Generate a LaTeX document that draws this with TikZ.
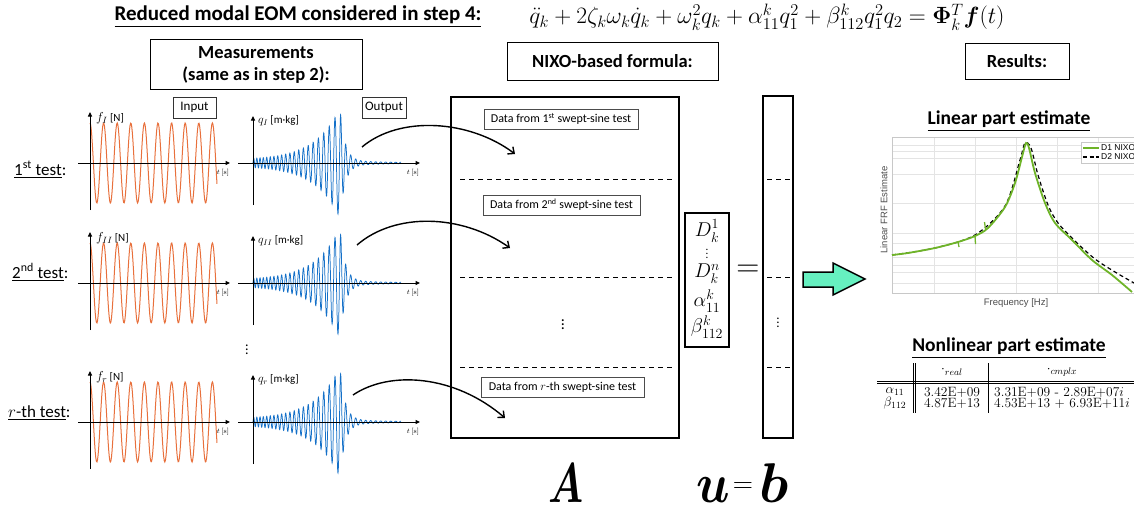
\RequirePackage{fix-cm}
\documentclass[tikz,border=0pt]{standalone}
\usepackage{amsmath,bm}
\usepackage[no-math]{fontspec}
\setmainfont{Carlito}
\newfontfamily\arialf{Liberation Sans}
\newcommand{\lmrm}{\fontfamily{lmr}\selectfont}
\usetikzlibrary{arrows.meta}
\definecolor{sigorange}{RGB}{232,112,60}
\definecolor{sigblue}{RGB}{20,112,200}
\definecolor{frgreen}{RGB}{110,180,40}
\definecolor{garrowfill}{RGB}{102,240,192}
\definecolor{gridc}{RGB}{228,228,228}
\definecolor{framec}{RGB}{200,200,200}
\newcommand{\tlab}{{\fontsize{7}{8}\selectfont$t$ {\lmrm[s]}}}
\newcommand{\testrow}[4]{%
 \draw[insig] plot[domain=0:127,samples=220] ({90+\x},{#2-40*cos(26.47*\x)});
 \draw[outsig] plot[domain=0:87,samples=520] ({253+\x},{#2-(3+52*exp((\x-87)/25))*sin(10440*ln(1+\x/87))}) -- plot[domain=87:148,samples=320] ({253+\x},{#2-(2.5*exp((87-\x)/50)+52.5*exp((87-\x)/5))*sin(7236+72*(\x-87))});
 \draw[axisline] (90,#2+47) -- (90,#2-51);
 \draw[axisline] (78,#2) -- (230,#2);
 \draw[axisline] (253,#2+42) -- (253,#2-47);
 \draw[axisline] (238,#2) -- (420,#2);
 \node[anchor=west] (flab#1) at (96,#2-45) {{\fontsize{13}{13}\selectfont$f_{#3}$}\ {\fontsize{11}{12}\selectfont[N]}};
 \node[anchor=west] (qlab#1) at (258,#2-42) {{\fontsize{12}{12}\selectfont$q_{#4}$}\ {\fontsize{11}{12}\selectfont[m·kg]}};
 \node (tin#1) at (223,#2+10) {\tlab};
 \node (tout#1) at (413,#2+10) {\tlab};
}
\begin{document}
\begin{tikzpicture}[x=1pt,y=-1pt,
  every node/.style={inner sep=0pt},
  insig/.style={sigorange, line width=1pt},
  outsig/.style={sigblue, line width=0.75pt},
  axisline/.style={black, line width=1pt, -{Triangle[length=4.5pt,width=4pt]}},
  hbox/.style={draw, line width=1pt, font=\fontsize{18.5}{22}\selectfont\bfseries, align=center},
  smallbox/.style={draw=black!80, line width=0.6pt, font=\fontsize{13}{14}\selectfont},
  databox/.style={draw=black!70, line width=0.6pt, font=\fontsize{12}{13}\selectfont, minimum height=20pt},
  matbox/.style={draw, line width=2pt},
  conn/.style={line width=1.4pt, -{Straight Barb[length=5pt,width=9pt]}},
  rowdash/.style={dash pattern=on 5pt off 4pt, line width=0.8pt},
  testlab/.style={anchor=base west, font=\fontsize{17}{19}\selectfont},
  veclab/.style={font=\fontsize{20}{22}\selectfont},
  bigsym/.style={anchor=base, font=\fontsize{56}{56}\selectfont},
  grid line/.style={gridc, line width=0.5pt},
  restitle/.style={font=\fontsize{19.5}{22}\selectfont\bfseries},
  tabtext/.style={font=\fontsize{13.5}{15}\selectfont}
]
\useasboundingbox (0,0) rectangle (1134,511);

% ---- title
\node[font=\fontsize{21}{25}\selectfont\bfseries] (title) at (298,17) {\underline{Reduced modal EOM considered in step 4:}};
\node[font=\fontsize{23.5}{26}\selectfont] (eom) at (767,17) {$\ddot{q}_k+2\zeta_k\omega_k\dot{q}_k+\omega_k^2q_k+\alpha_{11}^kq_1^2+\beta_{112}^kq_1^2q_2=\mathbf{\Phi}_k^T\bm{f}(t)$};

% ---- header boxes
\node[hbox, minimum width=212pt, minimum height=49pt] (meas) at (256,64.5) {Measurements\\(same as in step 2):};
\node[hbox, minimum width=211pt, minimum height=37pt] (nixo) at (612.5,61.5) {NIXO-based formula:};
\node[hbox, minimum width=104pt, minimum height=35pt] (res) at (1017,61.5) {Results:};

% ---- test rows
\node[testlab] (lab1) at (14,175) {\underline{1\textsuperscript{st} test}:};
\node[testlab] (lab2) at (12,278) {\underline{2\textsuperscript{nd} test}:};
\node[testlab] (lab3) at (8,417) {\underline{$r$-th test}:};
\testrow{1}{163}{I}{I}
\testrow{2}{283}{II}{II}
\testrow{3}{422}{r}{r}
\node[smallbox, minimum width=43pt, minimum height=21pt] (inbox) at (194.5,107.5) {Input};
\node[smallbox, minimum width=44pt, minimum height=21pt] (outbox) at (384,107.5) {Output};
\node[font=\fontsize{14}{14}\selectfont] (rowdots) at (247,347) {$\vdots$};

% ---- matrix A
\node[matbox, minimum width=228pt, minimum height=341pt] (Amat) at (565,267.5) {};
\draw[rowdash] (460,179) -- (673,179);
\draw[rowdash] (460,277) -- (673,277);
\draw[rowdash] (460,367) -- (673,367);
\node[databox, minimum width=154pt] (d1) at (561,119) {Data from 1\textsuperscript{st} swept-sine test};
\node[databox, minimum width=157pt] (d2) at (561.5,205) {Data from 2\textsuperscript{nd} swept-sine test};
\node[databox, minimum width=163pt] (d3) at (562.5,387) {Data from $r$-th swept-sine test};
\node[font=\fontsize{16}{16}\selectfont] (Adots) at (563,322) {$\vdots$};

% ---- connectors
\coordinate (s1) at (362,147); \coordinate (e1) at (515,154);
\coordinate (s2) at (357,245); \coordinate (e2) at (510,248);
\coordinate (s3) at (353,395); \coordinate (e3) at (505,418);
\draw[conn] (s1) .. controls (400,115) and (470,120) .. (e1);
\draw[conn] (s2) .. controls (395,212) and (462,214) .. (e2);
\draw[conn] (s3) .. controls (390,370) and (455,375) .. (e3);

% ---- u vector
\node[matbox, minimum width=44pt, minimum height=134pt] (uvec) at (707,280) {};
\node[veclab] (u1) at (707,231) {$D_k^1$};
\node[font=\fontsize{11}{11}\selectfont] (u2) at (707,251) {$\vdots$};
\node[veclab] (u3) at (707,274) {$D_k^n$};
\node[veclab] (u4) at (707,301) {$\alpha_{11}^k$};
\node[veclab] (u5) at (707,327) {$\beta_{112}^k$};
\node[font=\fontsize{32}{32}\selectfont] (eqmid) at (748,271) {$=$};

% ---- b vector
\node[matbox, minimum width=30pt, minimum height=342pt] (bvec) at (778,267) {};
\draw[rowdash] (767,179) -- (790,179);
\draw[rowdash] (767,277) -- (790,277);
\draw[rowdash] (767,367) -- (790,367);
\node[font=\fontsize{13}{13}\selectfont] (bdots) at (778,320) {$\vdots$};

% ---- bottom labels
\node[bigsym, xscale=0.72] (Alab) at (566,502) {$\bm{A}$};
\node[bigsym, xscale=0.88] (ulab) at (713,502) {$\bm{u}$};
\node[font=\fontsize{28}{28}\selectfont] (eqlab) at (743,488) {$=$};
\node[bigsym] (blab) at (774,502) {$\bm{b}$};

% ---- green arrow
\draw[line width=1.5pt, fill=garrowfill, line join=miter] (803,272) -- (833,272) -- (833,263) -- (865,279) -- (833,295) -- (833,287) -- (803,287) -- cycle;

% ---- linear part estimate
\node[restitle] (lintitle) at (1009,121) {\underline{Linear part estimate}};
\begin{scope}
\clip (878,130) rectangle (1134,310);
\foreach \gx in {934,975,1016,1057,1098} \draw[grid line] (\gx,137) -- (\gx,293);
\foreach \gy in {145,151,158,174,203,233,243,257,265,272,283} \draw[grid line] (892,\gy) -- (1134,\gy);
\draw[framec, line width=0.7pt] (1134,137) -- (892,137) -- (892,293) -- (1134,293);
\draw[black, line width=1.2pt, dash pattern=on 4pt off 3pt] plot[smooth, tension=0.5] coordinates {(892,255) (935,248) (975,235) (1005,206) (1020,160) (1025,143) (1031,148) (1038,175) (1048,205) (1058,223) (1075,241) (1095,259) (1115,272) (1134,283)};
\draw[frgreen, line width=1.8pt] plot[smooth, tension=0.5] coordinates {(892,255) (908,253) (935,248) (958,242) (975,236) (988,228) (1005,207) (1015,183) (1022,157) (1026,143) (1029,148) (1035,173) (1045,203) (1055,223) (1072,240) (1092,260) (1112,275) (1132,292)};
\draw[frgreen, line width=1.3pt] (958,242) -- (959,247);
\draw[frgreen, line width=1.3pt] (975,236) -- (975.5,244);
\draw[frgreen, line width=1.3pt] (985.5,229) -- (984.5,222);
\node[draw=framec, fill=white, line width=0.6pt, minimum width=60pt, minimum height=21pt, anchor=north west] (legbox) at (1081,142) {};
\draw[frgreen, line width=1.6pt] (1083,148) -- (1099,148);
\draw[black, line width=1.2pt, dash pattern=on 4pt off 2.5pt] (1083,157) -- (1099,157);
\node[anchor=west, font=\arialf\fontsize{8.5}{9}\selectfont] (leg1) at (1101,148) {D1 NIXO};
\node[anchor=west, font=\arialf\fontsize{8.5}{9}\selectfont] (leg2) at (1101,157) {D2 NIXO};
\node[rotate=90, font=\arialf\fontsize{9.5}{10}\selectfont, text=black!70] (ylab) at (884,210) {Linear FRF Estimate};
\node[font=\arialf\fontsize{9.5}{10}\selectfont, text=black!70] (xlab) at (1016,303) {Frequency [Hz]};
\end{scope}

% ---- nonlinear part estimate
\node[restitle] (nltitle) at (1009,348) {\underline{Nonlinear part estimate}};
\begin{scope}
\clip (860,358) rectangle (1134,420);
\draw[line width=0.5pt] (877,381) -- (1134,381);
\draw[line width=0.5pt] (877,383.5) -- (1134,383.5);
\draw[line width=0.5pt] (913,363) -- (913,413);
\draw[line width=0.5pt] (915.5,363) -- (915.5,413);
\draw[line width=0.5pt] (988,363) -- (988,413);
\node[tabtext] (hreal) at (952,371) {$\cdot_{real}$};
\node[tabtext] (hcplx) at (1062,371) {$\cdot_{cmplx}$};
\node[tabtext] (ra) at (895,392) {$\alpha_{11}$};
\node[tabtext] (rb) at (895,403) {$\beta_{112}$};
\node[tabtext] (va1) at (952,392) {\lmrm 3.42E+09};
\node[tabtext] (vb1) at (952,403) {\lmrm 4.87E+13};
\node[tabtext, anchor=west] (va2) at (994,392) {\lmrm 3.31E+09 - 2.89E+07$i$};
\node[tabtext, anchor=west] (vb2) at (994,403) {\lmrm 4.53E+13 + 6.93E+11$i$};
\end{scope}
\end{tikzpicture}
\end{document}
